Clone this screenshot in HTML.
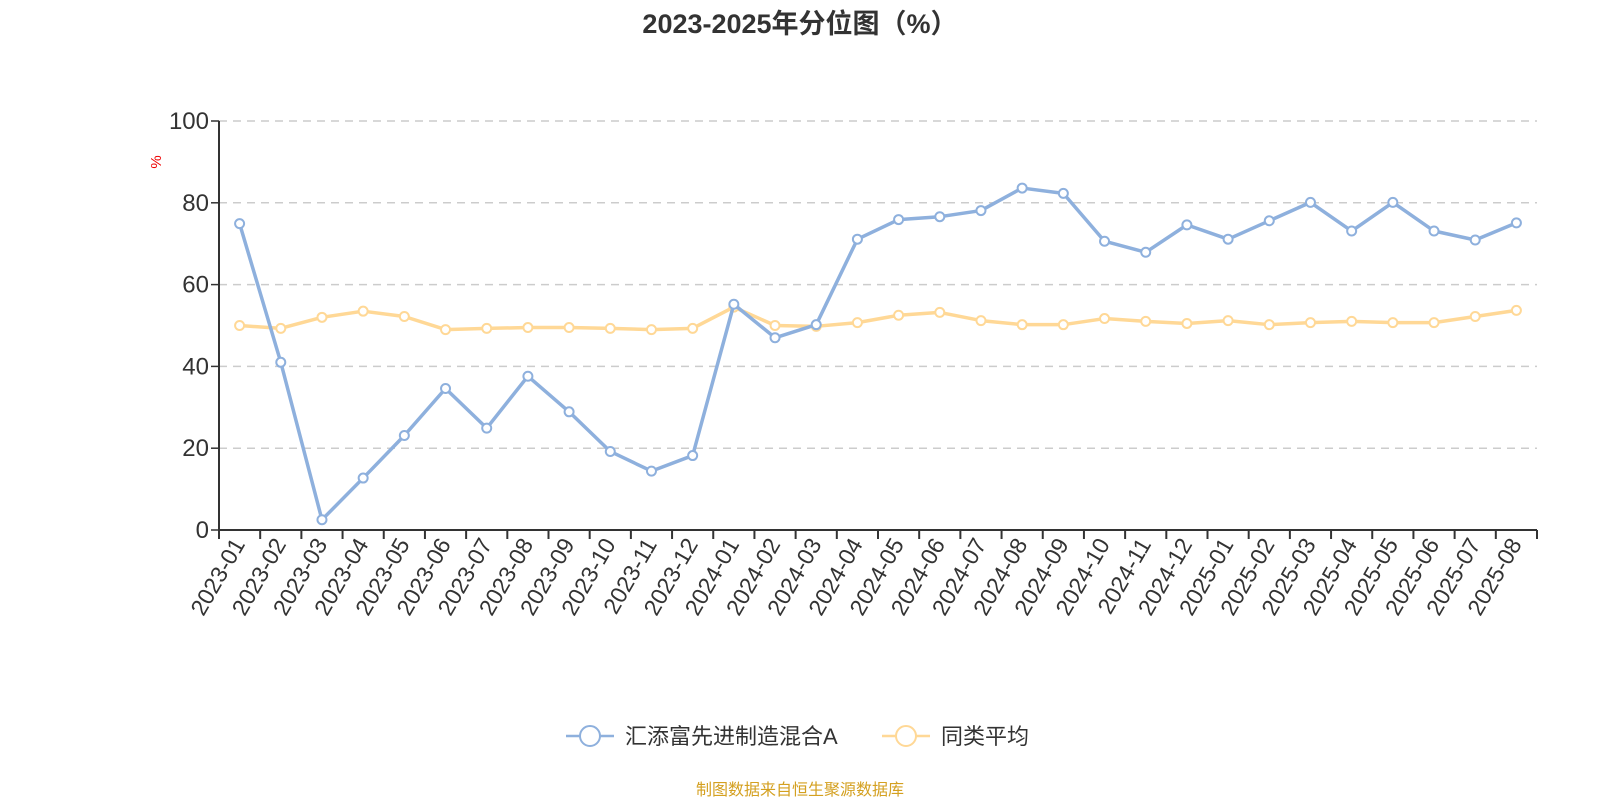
<!DOCTYPE html>
<html><head><meta charset="utf-8"><style>
body{margin:0;background:#fff;}
svg{display:block;font-family:"Liberation Sans","Noto Sans CJK SC",sans-serif;}
</style></head><body>
<svg id="chart" width="1600" height="800">
<text x="800" y="33" text-anchor="middle" font-size="27" font-weight="bold" fill="#333">2023-2025年分位图（%）</text>
<text transform="translate(161,162) rotate(-90)" text-anchor="middle" font-size="15" fill="#e00">%</text>
<g id="grid"></g><g id="xaxis"></g><g id="series"></g>
<g>
<g>
<line x1="566" y1="736" x2="614" y2="736" stroke="#8eb0dd" stroke-width="2.5"/>
<circle cx="590" cy="736" r="10" fill="#fff" stroke="#8eb0dd" stroke-width="2"/>
<text x="625" y="744" font-size="22" fill="#333">汇添富先进制造混合A</text></g>
<g>
<line x1="882" y1="736" x2="930" y2="736" stroke="#ffd896" stroke-width="2.5"/>
<circle cx="906" cy="736" r="10" fill="#fff" stroke="#ffd896" stroke-width="2"/>
<text x="941" y="744" font-size="22" fill="#333">同类平均</text></g>
</g>
<text x="800" y="795" text-anchor="middle" font-size="16" fill="#d4a020">制图数据来自恒生聚源数据库</text>
</svg>
<script>
const categories=["2023-01","2023-02","2023-03","2023-04","2023-05","2023-06","2023-07","2023-08","2023-09","2023-10","2023-11","2023-12","2024-01","2024-02","2024-03","2024-04","2024-05","2024-06","2024-07","2024-08","2024-09","2024-10","2024-11","2024-12","2025-01","2025-02","2025-03","2025-04","2025-05","2025-06","2025-07","2025-08"];
const fundValues=[74.9,41,2.5,12.7,23.1,34.6,24.9,37.6,28.9,19.2,14.4,18.2,55.2,47,50.2,71.1,75.9,76.6,78.1,83.6,82.3,70.6,67.9,74.6,71.1,75.6,80.1,73.1,80.1,73.1,70.9,75.1];
const avgValues=[50,49.3,52,53.5,52.2,49,49.3,49.5,49.5,49.3,49,49.3,54.5,50,49.8,50.7,52.5,53.2,51.2,50.2,50.2,51.7,51,50.5,51.2,50.2,50.7,51,50.7,50.7,52.2,53.7];
const yTicks=[0,20,40,60,80,100];
const NS="http://www.w3.org/2000/svg";
const L=219,R=1537,T=121,B=530,bw=(R-L)/categories.length;
function xs(i){return L+bw*(i+0.5);}
function ys(v){return B-(v/100)*(B-T);}
function mk(tag,attrs,parent){const e=document.createElementNS(NS,tag);for(const k in attrs)e.setAttribute(k,attrs[k]);parent.appendChild(e);return e;}
const grid=document.getElementById('grid'),xa=document.getElementById('xaxis'),ser=document.getElementById('series');
yTicks.forEach(t=>{
 if(t>0){const g=mk('line',{x1:L,x2:R,y1:ys(t),y2:ys(t),stroke:'#ccc','stroke-width':1.5,'stroke-dasharray':'8,6'},grid);
 
 }
 const tk=mk('line',{x1:L-8,x2:L,y1:ys(t),y2:ys(t),stroke:'#333','stroke-width':1.5},grid);
 
 
 const lb=mk('text',{x:L-10,y:ys(t)+8,'text-anchor':'end','font-size':24,fill:'#333'},grid);
 lb.textContent=t;
 
 
});
const ya=mk('line',{x1:L,x2:L,y1:T,y2:B,stroke:'#333','stroke-width':2},grid);


const xl=mk('line',{x1:L,x2:R,y1:B,y2:B,stroke:'#333','stroke-width':2},xa);


for(let i=0;i<=categories.length;i++){
 const tk=mk('line',{x1:L+bw*i,x2:L+bw*i,y1:B,y2:B+9,stroke:'#333','stroke-width':2},xa);
 
 
}
categories.forEach((c,i)=>{
 const t=mk('text',{transform:`translate(${xs(i)+6},${B+14}) rotate(-60)`,'text-anchor':'end','font-size':23,fill:'#333'},xa);
 t.textContent=c;
 
 
});
function drawSeries(vals,color,name){
 const g=mk('g',{},ser);
 
 
 const pl=mk('polyline',{points:vals.map((v,i)=>xs(i)+','+ys(v)).join(' '),fill:'none',stroke:color,'stroke-width':3.5,'stroke-linejoin':'round'},g);
 
 
 vals.forEach((v,i)=>{
  const c=mk('circle',{cx:xs(i),cy:ys(v),r:4.5,fill:'#fff',stroke:color,'stroke-width':2},g);
  
  
 });
}
drawSeries(avgValues,'#ffd896','average-series');
drawSeries(fundValues,'#8eb0dd','fund-series');
</script>
</body></html>
